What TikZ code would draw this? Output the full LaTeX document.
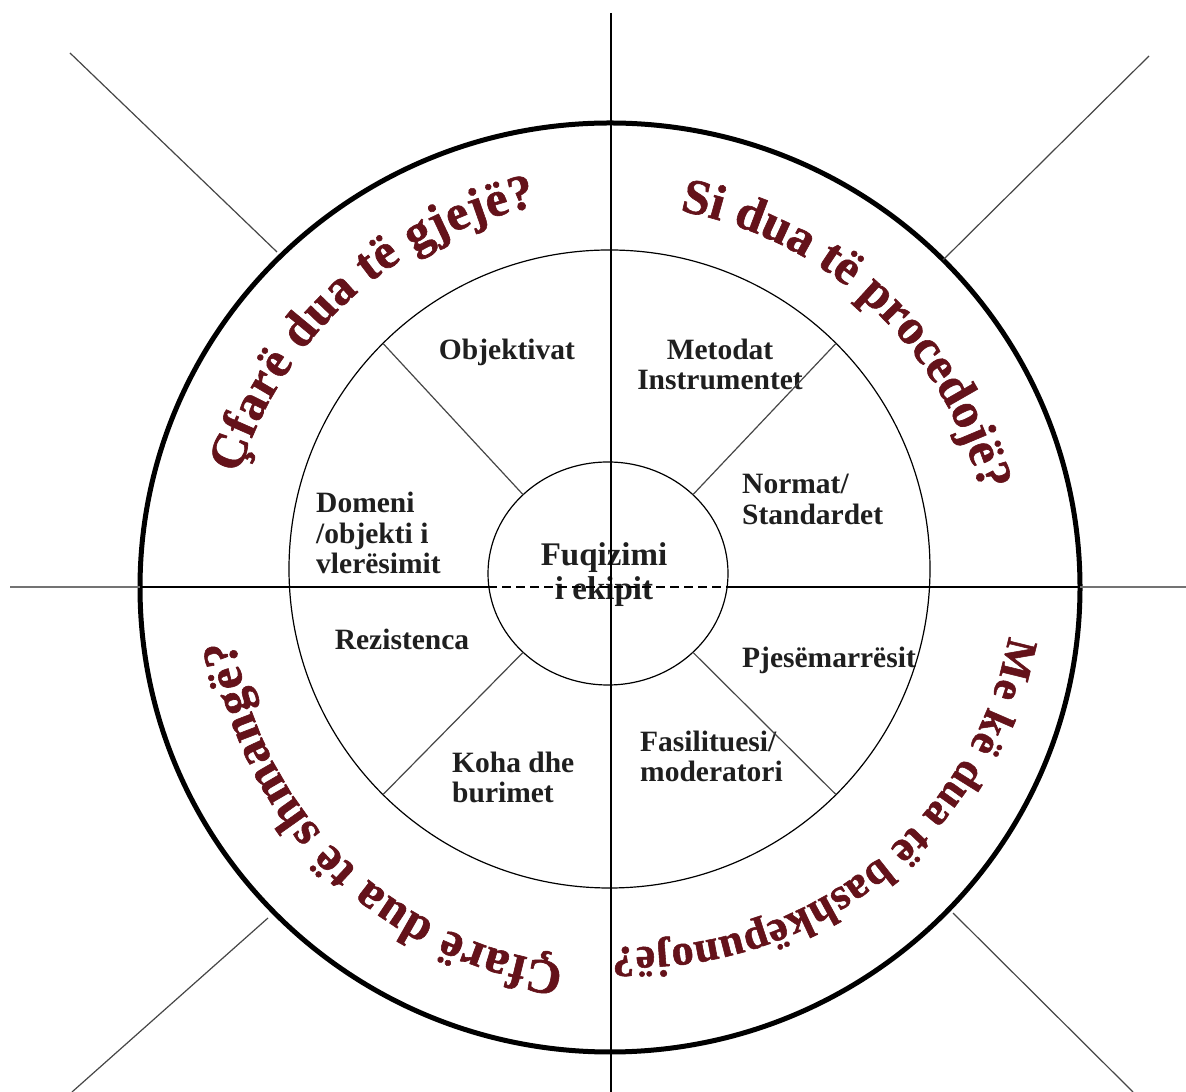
\documentclass[tikz,border=0pt]{standalone}
\usepackage{fontspec}
\setmainfont{Liberation Serif}
\newfontfamily\wafam[BoldFeatures={FakeBold=1.2}]{Liberation Serif}
\usetikzlibrary{decorations.text}
\definecolor{wordart}{RGB}{100,18,26}
\definecolor{diag}{RGB}{70,70,70}
\newcommand\wafont[1]{\fontsize{#1}{#1}\wafam\bfseries}
% #1 centre, #2 start angle, #3 end angle, #4 radius, #5 font size, #6 text
\newcommand\arctext[6]{%
  \path[decorate, decoration={text along path, text align=fit to path,
     text color=wordart, text={|\wafont{#5}|#6}}]
     (#1) ++(#2:#4) arc[start angle=#2, end angle=#3, radius=#4];}
\begin{document}
\begin{tikzpicture}[x=1pt,y=1pt,
  thinline/.style={line width=1.2pt, black},
  diagline/.style={line width=1.2pt, diag},
  stub/.style={line width=2.2pt, black!55},
  lbl/.style={font=\fontsize{29.5}{30.5}\selectfont\bfseries, inner sep=0pt, text=black!88},
  ctr/.style={font=\fontsize{33}{34}\selectfont\bfseries, inner sep=0pt, text=black!88, align=center}]
\useasboundingbox (0,0) rectangle (1186,1092);
\fill[white] (0,0) rectangle (1186,1092);
\coordinate (oc) at (610,504.5);
\coordinate (mc) at (609.5,523);
\coordinate (ic) at (608,518.5);
\coordinate (brc) at (633.3,526.7);

% labels
\node[lbl] (objektivat) at (507,740) {Objektivat};
\node[lbl, align=center] (metodat) at (720,727.5) {Metodat\\Instrumentet};
\node[lbl, align=left, anchor=west] (normat) at (742,592.5) {Normat/\\Standardet};
\node[lbl, align=left, anchor=west] (domeni) at (316,559) {Domeni\\/objekti i\\vlerësimit};
\node[lbl] (rezistenca) at (402,453) {Rezistenca};
\node[lbl, align=left, anchor=west] (koha) at (452,314.5) {Koha dhe\\burimet};
\node[lbl, align=left, anchor=west] (fasilituesi) at (640,335.5) {Fasilituesi/\\moderatori};
\node[lbl, anchor=west] (pjese) at (742,432) {Pjesëmarrësit};
\node[ctr] (fuqizimi) at (604,517) {Fuqizimi\\i ekipit};

% circles
\draw[line width=5pt] (oc) ellipse [x radius=470, y radius=464.5];
\draw[thinline] (mc) ellipse [x radius=320.5, y radius=319];
\draw[thinline] (ic) ellipse [x radius=120, y radius=111.5];

% axes
\draw[stub] (10,505) -- (140,505);
\draw[thinline] (140,505) -- (488,505);
\draw[thinline, dash pattern=on 9pt off 5pt] (488,505) -- (728,505);
\draw[thinline] (728,505) -- (1080,505);
\draw[stub] (1080,505) -- (1186,505);
\draw[thinline] (611,1079) -- (611,0);

% outer diagonals
\draw[diagline] (70,1039) -- (277,840);
\draw[diagline] (1149,1036) -- (943,832);
\draw[diagline] (953,179) -- (1133,0);
\draw[diagline] (268,174) -- (72,0);

% inner diagonals
\draw[diagline] (383,748.6) -- (523.1,597.3);
\draw[diagline] (836,748.6) -- (692.9,597.3);
\draw[diagline] (383,297.4) -- (523.1,439.7);
\draw[diagline] (836,297.4) -- (692.9,439.7);

% curved texts
\arctext{oc}{163}{101}{388}{50}{Çfarë dua të gjejë?}
\arctext{oc}{79.5}{14.5}{383}{50}{Si dua të procedojë?}
\arctext{brc}{-10.7}{-93}{382}{44}{Me kë dua të bashkëpunojë?}
\arctext{oc}{263}{188}{379}{49}{Çfarë dua të shmangë?}
\end{tikzpicture}
\end{document}
